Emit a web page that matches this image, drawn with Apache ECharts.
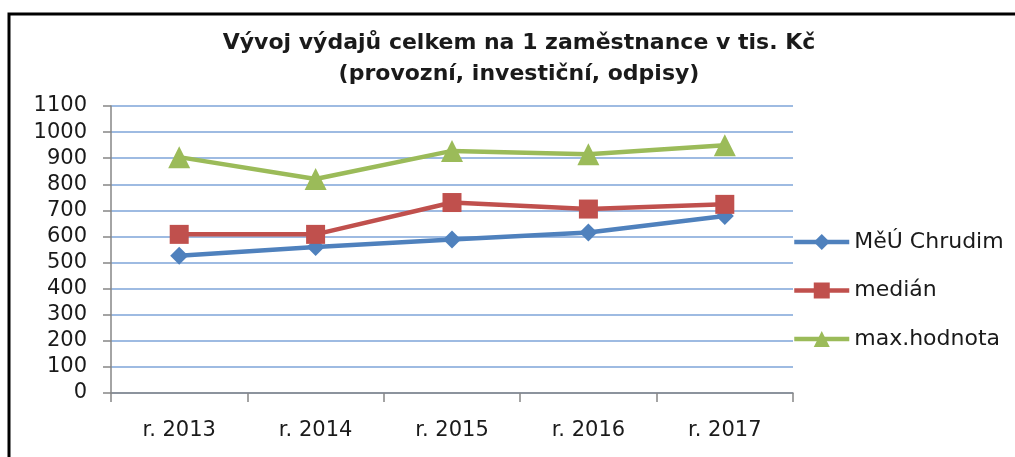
<!DOCTYPE html>
<html>
<head>
<meta charset="utf-8">
<script src="https://cdn.jsdelivr.net/npm/echarts@6/dist/echarts.min.js"></script>
<style>
  html, body { margin: 0; padding: 0; background: #fff; overflow: hidden; }
  #chart { width: 1015px; height: 457px; }
</style>
</head>
<body>
<div id="chart"></div>
<script>
// values
const years = ['r. 2013', 'r. 2014', 'r. 2015', 'r. 2016', 'r. 2017'];
const chrudim = [526, 560, 588, 615, 678];
const median = [608, 608, 730, 705, 723];
const maxHodnota = [904, 820, 928, 915, 950];

const seriesNames = ['MěÚ Chrudim', 'medián', 'max.hodnota'];
const fontFam = '"DejaVu Sans", sans-serif';

const chart = echarts.init(document.getElementById('chart'));

chart.setOption({
  backgroundColor: '#fff',
  animation: false,
  title: {
    text: 'Vývoj výdajů celkem na 1 zaměstnance v tis. Kč\n(provozní, investiční, odpisy)',
    left: 514,
    textAlign: 'center',
    top: 23,
    textStyle: {
      fontFamily: fontFam,
      fontSize: 22,
      fontWeight: 'bold',
      color: '#1a1a1a',
      lineHeight: 31
    }
  },
  legend: {
    orient: 'vertical',
    left: 787,
    top: 226,
    itemWidth: 55,
    itemHeight: 20,
    itemGap: 26.5,
    lineStyle: { width: 4.5 },
    textStyle: { fontFamily: fontFam, fontSize: 22, color: '#1a1a1a' },
    data: seriesNames
  },
  grid: { left: 111, right: 222, top: 106, bottom: 64 },
  xAxis: {
    type: 'category',
    data: years,
    boundaryGap: true,
    axisLine: { lineStyle: { color: '#868686', width: 1.5 } },
    axisTick: { show: true, length: 9, lineStyle: { color: '#868686', width: 1.5 } },
    axisLabel: { margin: 27, fontFamily: fontFam, fontSize: 21, color: '#1a1a1a' },
    splitLine: { show: false }
  },
  yAxis: {
    type: 'value',
    min: 0,
    max: 1100,
    interval: 100,
    axisLine: { show: true, lineStyle: { color: '#868686', width: 1.5 } },
    axisTick: { show: true, length: 8, lineStyle: { color: '#868686', width: 1.5 } },
    axisLabel: {
      margin: 24,
      fontFamily: fontFam,
      fontSize: 21,
      color: '#1a1a1a',
      formatter: (v) => String(v)
    },
    splitLine: { lineStyle: { color: '#7ea4d8', width: 1.5 } }
  },
  series: [
    {
      name: seriesNames[0],
      type: 'line',
      data: chrudim,
      symbol: 'diamond',
      symbolSize: 18,
      lineStyle: { color: '#4f81bd', width: 4.5 },
      itemStyle: { color: '#4f81bd' }
    },
    {
      name: seriesNames[1],
      type: 'line',
      data: median,
      symbol: 'rect',
      symbolSize: 19,
      lineStyle: { color: '#c0504d', width: 4.5 },
      itemStyle: { color: '#c0504d' }
    },
    {
      name: seriesNames[2],
      type: 'line',
      data: maxHodnota,
      symbol: 'triangle',
      symbolSize: 22,
      lineStyle: { color: '#9bbb59', width: 4.5 },
      itemStyle: { color: '#9bbb59' }
    }
  ],
  graphic: [
    {
      type: 'polyline',
      shape: { points: [[9, 470], [9, 14], [1030, 14]] },
      style: { stroke: '#000', lineWidth: 3, fill: null }
    }
  ]
});
</script>
</body>
</html>
